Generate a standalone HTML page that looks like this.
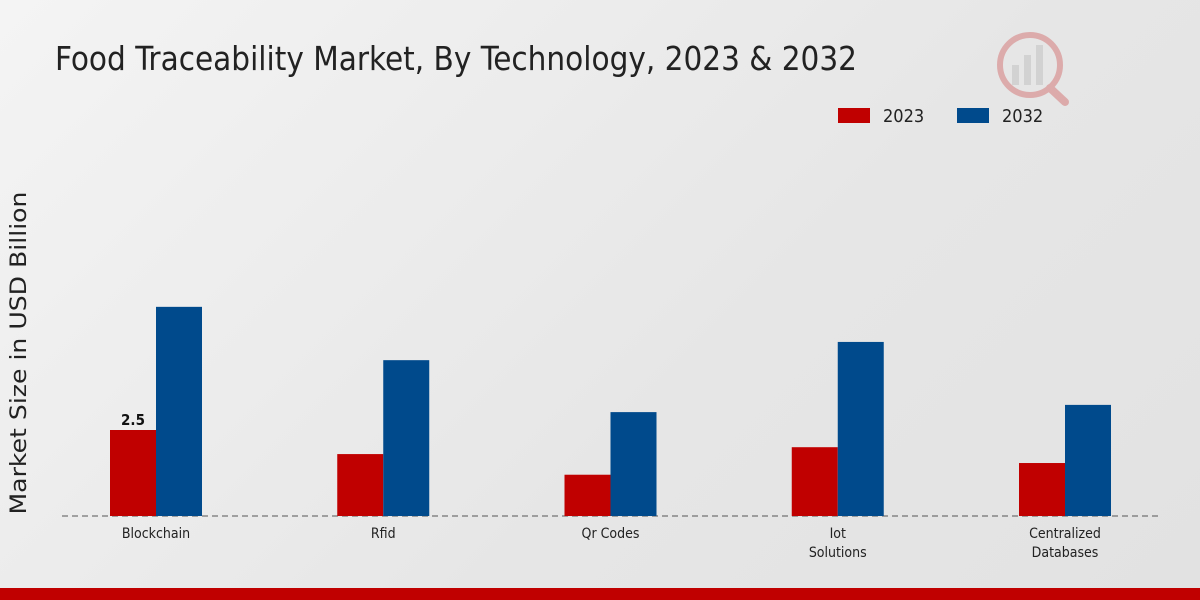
<!DOCTYPE html>
<html><head><meta charset="utf-8"><style>
body{margin:0;width:1200px;height:600px;overflow:hidden;font-family:"DejaVu Sans Condensed","DejaVu Sans","Liberation Sans",sans-serif;}
#bg{position:absolute;left:0;top:0;width:1200px;height:600px;background:linear-gradient(135deg,#f4f4f4 0%,#e6e6e6 60%,#e2e2e2 100%);}
svg text{font-family:"DejaVu Sans Condensed","DejaVu Sans",sans-serif;}
</style></head><body>
<div id="bg"></div>
<svg id="chart" width="1200" height="600" style="position:absolute;left:0;top:0">
<text x="55" y="70" font-size="33" fill="#222" textLength="802" lengthAdjust="spacingAndGlyphs">Food Traceability Market, By Technology, 2023 &amp; 2032</text>
<g>
<rect x="838" y="108" width="32" height="15" fill="#c00000"/>
<text x="883" y="122" font-size="18" fill="#222">2023</text>
<rect x="957" y="108" width="32" height="15" fill="#004a8c"/>
<text x="1002" y="122" font-size="18" fill="#222">2032</text>
</g>
<text transform="translate(26,353) rotate(-90)" text-anchor="middle" font-size="22" fill="#222" style="font-family:'DejaVu Sans',sans-serif" textLength="323" lengthAdjust="spacingAndGlyphs">Market Size in USD Billion</text>
<line x1="62" y1="516" x2="1160" y2="516" stroke="#555" stroke-dasharray="6,4"/>
<g id="bars"></g>
<g opacity="0.25">
<circle cx="1030" cy="65" r="30" fill="none" stroke="#c00000" stroke-width="6"/>
<rect x="1012" y="65" width="7" height="20" fill="#999"/><rect x="1024" y="55" width="7" height="30" fill="#999"/><rect x="1036" y="45" width="7" height="40" fill="#999"/>
<line x1="1050" y1="88" x2="1065" y2="102" stroke="#c00000" stroke-width="8" stroke-linecap="round"/>
</g>
</svg>
<div style="position:absolute;left:0;top:588px;width:1200px;height:12px;background:#c00000"></div>
<script>
const categories=["Blockchain","Rfid","Qr Codes","Iot\nSolutions","Centralized\nDatabases"];
const values2023=[2.5,1.8,1.2,2.0,1.54];
const values2032=[6.08,4.53,3.02,5.06,3.23];
const ns="http://www.w3.org/2000/svg";
const g=document.getElementById("bars");
const baseY=516,pxPerUnit=34.4,firstCenter=156,step=227.25,barW=46;
const y=v=>baseY-v*pxPerUnit;
const xc=i=>firstCenter+i*step;
function mk(t,a){const e=document.createElementNS(ns,t);for(const k in a)e.setAttribute(k,a[k]);return e;}
categories.forEach((c,i)=>{
 const r1=mk("rect",{x:xc(i)-barW,y:y(values2023[i]),width:barW,height:baseY-y(values2023[i]),fill:"#c00000"});
 
 
 g.appendChild(r1);
 const r2=mk("rect",{x:xc(i),y:y(values2032[i]),width:barW,height:baseY-y(values2032[i]),fill:"#004a8c"});
 
 
 g.appendChild(r2);
 c.split("\n").forEach((ln,j)=>{
  const t=mk("text",{x:xc(i),y:538+j*19,"text-anchor":"middle","font-size":"14",fill:"#222"});
  t.textContent=ln;
  
  
  g.appendChild(t);
 });
});
const lbl=mk("text",{x:xc(0)-barW/2,y:y(values2023[0])-5,"text-anchor":"middle","font-size":"15","font-weight":"bold",fill:"#111"});
lbl.textContent=values2023[0];


g.appendChild(lbl);
</script>
</body></html>
